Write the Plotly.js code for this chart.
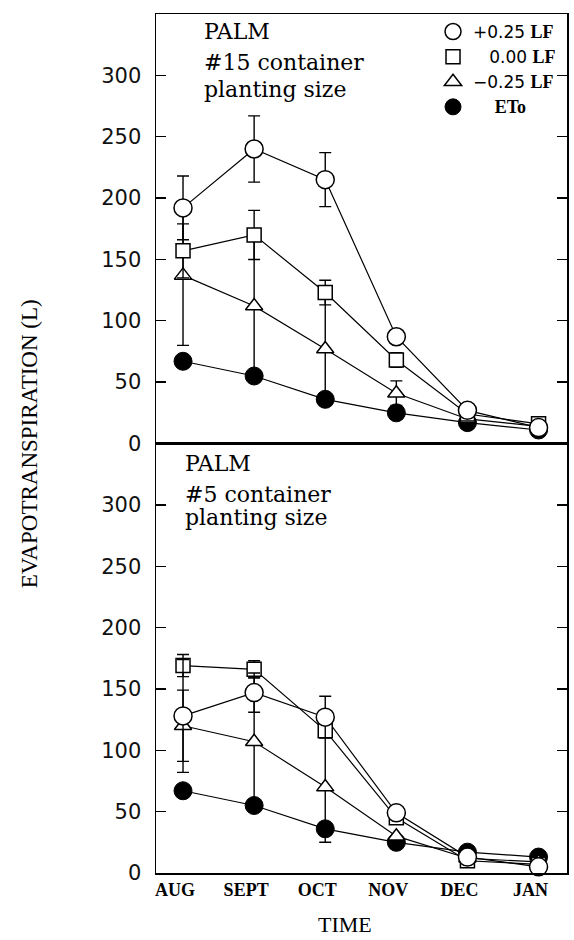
<!DOCTYPE html>
<html><head><meta charset="utf-8">
<script src="https://cdn.plot.ly/plotly-3.0.1.min.js"></script>
<style>html,body{margin:0;padding:0;background:#fff}</style>
</head><body><div id="chart" style="width:574px;height:940px"></div>
<script>
const months = ["AUG", "SEPT", "OCT", "NOV", "DEC", "JAN"];

// Top panel: #15 container planting size
const top_plus25 = [192, 240, 215, 87, 27, 13];
const top_plus25_err = [26, 27, 22, 0, 0, 0];
const top_zero = [157, 170, 123, 68, 24, 16];
const top_zero_err = [22, 20, 10, 6, 0, 0];
const top_minus25 = [137, 112, 77, 41, 20, 14];
const top_minus25_err = [57, 57, 42, 10, 0, 0];
const top_eto = [67, 55, 36, 25, 17, 11];

// Bottom panel: #5 container planting size
const bot_plus25 = [128, 147, 127, 49, 13, 5];
const bot_plus25_err = [46, 16, 17, 3, 0, 0];
const bot_zero = [169, 166, 116, 45, 10, 7];
const bot_zero_err = [9, 7, 5, 3, 0, 0];
const bot_minus25 = [120, 107, 70, 30, 12, 9];
const bot_minus25_err = [29, 52, 45, 0, 0, 0];
const bot_eto = [67, 55, 36, 25, 17, 13];

const yTicks = [0, 50, 100, 150, 200, 250, 300];
const lfStyle = 'font-family:\'Liberation Serif\';font-weight:bold;font-size:18px';
const legendNames = [
  '+0.25 <span style="' + lfStyle + '">LF</span>',
  '\u2007\u00A00.00 <span style="' + lfStyle + '">LF</span>',
  '\u22120.25 <span style="' + lfStyle + '">LF</span>',
  '\u2007\u2007<span style="' + lfStyle + '">ETo</span>'
];

const markerStyles = [
  {symbol: 'circle', size: 18, color: '#fff', line: {color: '#000', width: 1.5}},
  {symbol: 'square', size: 14, color: '#fff', line: {color: '#000', width: 1.5}},
  {symbol: 'triangle-up', size: 15, color: '#fff', line: {color: '#000', width: 1.5}},
  {symbol: 'circle', size: 18, color: '#000', line: {color: '#000', width: 1}}
];

const panels = [
  {xa: 'x2', ya: 'y2', series: [top_plus25, top_zero, top_minus25, top_eto],
   errs: [top_plus25_err, top_zero_err, top_minus25_err, null], legend: true},
  {xa: 'x', ya: 'y', series: [bot_plus25, bot_zero, bot_minus25, bot_eto],
   errs: [bot_plus25_err, bot_zero_err, bot_minus25_err, null], legend: false}
];

const data = [];
// connecting lines first
panels.forEach(p => {
  p.series.forEach((s, i) => {
    data.push({x: months, y: s, xaxis: p.xa, yaxis: p.ya, type: 'scatter', mode: 'lines',
      line: {color: '#000', width: 1.2}, showlegend: false, hoverinfo: 'skip'});
  });
});
// markers with error bars (drawing order: ETo, triangle, square, circle)
panels.forEach(p => {
  [3, 2, 1, 0].forEach(i => {
    const tr = {x: months, y: p.series[i], xaxis: p.xa, yaxis: p.ya, type: 'scatter', mode: 'markers',
      marker: markerStyles[i], name: legendNames[i], showlegend: p.legend,
      legendgroup: 'g' + i, legendrank: i + 1, cliponaxis: false};
    if (p.errs[i]) {
      tr.error_y = {type: 'data', array: p.errs[i], visible: true, color: '#000', thickness: 1.4, width: 6};
    }
    data.push(tr);
  });
});

const yaxisBase = {
  range: [0, 350], tickvals: yTicks, ticks: 'inside', ticklen: 10, tickwidth: 1.3, tickcolor: '#000',
  showline: true, linecolor: '#000', linewidth: 1.5, mirror: 'ticks', showgrid: false, zeroline: false,
  tickfont: {family: 'DejaVu Sans', size: 21, color: '#111'}, ticklabelstandoff: 9
};
const xaxisBase = {
  type: 'category', range: [-0.38, 5.4], showline: true, linecolor: '#000', linewidth: 1.5,
  mirror: true, showgrid: false, zeroline: false, ticks: ''
};

const ann = (text, x, y, size, extra) => Object.assign({
  text: text, xref: 'paper', yref: 'paper', x: x, y: y, showarrow: false,
  xanchor: 'left', yanchor: 'middle', font: {family: 'DejaVu Serif', size: size, color: '#000'}
}, extra || {});

const layout = {
  width: 574, height: 940,
  margin: {l: 156, r: 7, t: 14, b: 67},
  paper_bgcolor: '#fff', plot_bgcolor: '#fff',
  showlegend: true,
  legend: {x: 0.674, y: 1.0, xanchor: 'left', yanchor: 'top', bgcolor: 'rgba(0,0,0,0)',
    font: {family: 'DejaVu Sans', size: 17, color: '#000'}, tracegroupgap: 0, itemwidth: 30},
  xaxis: Object.assign({}, xaxisBase, {anchor: 'y', showticklabels: true, ticklabelshift: -8,
    tickfont: {family: 'Liberation Serif', size: 18, color: '#000', weight: 'bold'}}),
  xaxis2: Object.assign({}, xaxisBase, {anchor: 'y2', showticklabels: false}),
  yaxis: Object.assign({}, yaxisBase, {domain: [0, 0.5], anchor: 'x'}),
  yaxis2: Object.assign({}, yaxisBase, {domain: [0.5, 1], anchor: 'x2'}),
  annotations: [
    ann('PALM', 0.112, 0.980, 22),
    ann('#15 container', 0.112, 0.944, 22),
    ann('planting size', 0.112, 0.912, 22),
    ann('PALM', 0.066, 0.477, 22),
    ann('#5 container', 0.066, 0.441, 22),
    ann('planting size', 0.066, 0.414, 22),
    ann('EVAPOTRANSPIRATION (L)', -0.307, 0.5, 23,
      {textangle: -90, xanchor: 'center', font: {family: 'Liberation Serif', size: 23, color: '#000'}}),
    ann('TIME', 0.46, -0.0605, 22,
      {xanchor: 'center', font: {family: 'Liberation Serif', size: 22, color: '#000'}})
  ]
};

Plotly.newPlot('chart', data, layout, {staticPlot: true, displayModeBar: false});
</script></body></html>
